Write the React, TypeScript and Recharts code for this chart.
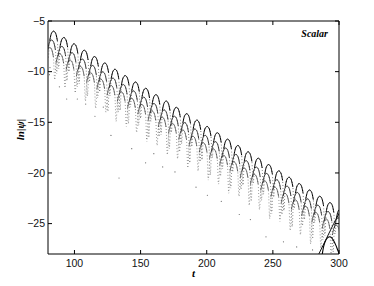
import React from 'react';
import { ComposedChart, Line, Scatter, XAxis, YAxis, ReferenceArea } from 'recharts';

const tTicks = [100, 150, 200, 250, 300];
const yTicks = [-25, -20, -15, -10, -5];

// samples are 8 per half-period of the ringing
const STEP = 0.9675;
const upperStart = 80.33;
const middleStart = 78.83;
const lowerStart = 77.33;

const upperRing = [
  -8.6, -6.96, -6.35, -6.08, -6.0, -6.08, -6.35, -6.96,
  -9.7, -7.59, -6.98, -6.71, -6.63, -6.71, -6.98, -7.59,
  -10.0, -8.21, -7.6, -7.33, -7.25, -7.33, -7.6, -8.21,
  -11.2, -8.84, -8.23, -7.96, -7.88, -7.96, -8.23, -8.84,
  -11.0, -9.47, -8.86, -8.59, -8.51, -8.59, -8.86, -9.47,
  -12.0, -10.1, -9.49, -9.22, -9.14, -9.22, -9.49, -10.1,
  -12.4, -10.72, -10.11, -9.84, -9.76, -9.84, -10.11, -10.72,
  -13.8, -11.35, -10.74, -10.47, -10.39, -10.47, -10.74, -11.35,
  -13.5, -11.98, -11.37, -11.1, -11.02, -11.1, -11.37, -11.98,
  -14.6, -12.6, -11.99, -11.72, -11.64, -11.72, -11.99, -12.6,
  -14.9, -13.23, -12.62, -12.35, -12.27, -12.35, -12.62, -13.23,
  -16.2, -13.86, -13.25, -12.98, -12.9, -12.98, -13.25, -13.86,
  -16.0, -14.48, -13.87, -13.6, -13.52, -13.6, -13.87, -14.48,
  -17.1, -15.11, -14.5, -14.23, -14.15, -14.23, -14.5, -15.11,
  -17.4, -15.74, -15.13, -14.86, -14.78, -14.86, -15.13, -15.74,
  -18.7, -16.37, -15.76, -15.49, -15.41, -15.49, -15.76, -16.37,
  -18.5, -16.99, -16.38, -16.11, -16.03, -16.11, -16.38, -16.99,
  -19.6, -17.62, -17.01, -16.74, -16.66, -16.74, -17.01, -17.62,
  -19.9, -18.25, -17.64, -17.37, -17.29, -17.37, -17.64, -18.25,
  -21.2, -18.87, -18.26, -17.99, -17.91, -17.99, -18.26, -18.87,
  -21.0, -19.5, -18.89, -18.62, -18.54, -18.62, -18.89, -19.5,
  -22.1, -20.13, -19.52, -19.25, -19.17, -19.25, -19.52, -20.13,
  -22.4, -20.75, -20.14, -19.87, -19.79, -19.87, -20.14, -20.75,
  -23.7, -21.38, -20.77, -20.5, -20.42, -20.5, -20.77, -21.38,
  -23.5, -22.01, -21.4, -21.13, -21.05, -21.13, -21.4, -22.01,
  -24.6, -22.64, -22.03, -21.76, -21.68, -21.76, -22.03, -22.64,
  -24.9, -23.26, -22.65, -22.38, -22.3, -22.38, -22.65, -23.26,
  -26.2, -23.89, -23.28, -23.01, -22.93, -23.01, -23.28, -23.89,
  -26.0, -24.52, -23.91, -23.64, -23.56,
];

const middleRing = [
  -9.3, -7.84, -7.23, -6.96, -6.88, -6.96, -7.23, -7.84,
  -10.2, -8.47, -7.86, -7.59, -7.51, -7.59, -7.86, -8.47,
  -10.9, -9.09, -8.48, -8.21, -8.13, -8.21, -8.48, -9.09,
  -11.5, -9.72, -9.11, -8.84, -8.76, -8.84, -9.11, -9.72,
  -12.4, -10.35, -9.74, -9.47, -9.39, -9.47, -9.74, -10.35,
  -12.6, -10.98, -10.37, -10.1, -10.02, -10.1, -10.37, -10.98,
  -13.9, -11.6, -10.99, -10.72, -10.64, -10.72, -10.99, -11.6,
  -14.0, -12.23, -11.62, -11.35, -11.27, -11.35, -11.62, -12.23,
  -15.1, -12.86, -12.25, -11.98, -11.9, -11.98, -12.25, -12.86,
  -15.3, -13.48, -12.87, -12.6, -12.52, -12.6, -12.87, -13.48,
  -16.5, -14.11, -13.5, -13.23, -13.15, -13.23, -13.5, -14.11,
  -16.4, -14.74, -14.13, -13.86, -13.78, -13.86, -14.13, -14.74,
  -17.6, -15.36, -14.75, -14.48, -14.4, -14.48, -14.75, -15.36,
  -17.9, -15.99, -15.38, -15.11, -15.03, -15.11, -15.38, -15.99,
  -19.0, -16.62, -16.01, -15.74, -15.66, -15.74, -16.01, -16.62,
  -18.9, -17.25, -16.64, -16.37, -16.29, -16.37, -16.64, -17.25,
  -20.2, -17.87, -17.26, -16.99, -16.91, -16.99, -17.26, -17.87,
  -20.3, -18.5, -17.89, -17.62, -17.54, -17.62, -17.89, -18.5,
  -21.5, -19.13, -18.52, -18.25, -18.17, -18.25, -18.52, -19.13,
  -21.6, -19.75, -19.14, -18.87, -18.79, -18.87, -19.14, -19.75,
  -22.8, -20.38, -19.77, -19.5, -19.42, -19.5, -19.77, -20.38,
  -22.7, -21.01, -20.4, -20.13, -20.05, -20.13, -20.4, -21.01,
  -24.0, -21.63, -21.02, -20.75, -20.67, -20.75, -21.02, -21.63,
  -24.1, -22.26, -21.65, -21.38, -21.3, -21.38, -21.65, -22.26,
  -25.3, -22.89, -22.28, -22.01, -21.93, -22.01, -22.28, -22.89,
  -25.2, -23.52, -22.91, -22.64, -22.56, -22.64, -22.91, -23.52,
  -26.5, -24.14, -23.53, -23.26, -23.18, -23.26, -23.53, -24.14,
  -26.6, -24.77, -24.16, -23.89, -23.81, -23.89, -24.16, -24.77,
  -27.8, -25.4, -24.79, -24.52, -24.44, -24.52, -24.79,
];

const lowerRing = [
  -10.0, -8.56, -7.95, -7.68, -7.6, -7.68, -7.95, -8.56,
  -10.8, -9.19, -8.58, -8.31, -8.23, -8.31, -8.58, -9.19,
  -11.6, -9.81, -9.2, -8.93, -8.85, -8.93, -9.2, -9.81,
  -12.1, -10.44, -9.83, -9.56, -9.48, -9.56, -9.83, -10.44,
  -12.9, -11.07, -10.46, -10.19, -10.11, -10.19, -10.46, -11.07,
  -13.6, -11.7, -11.09, -10.82, -10.74, -10.82, -11.09, -11.7,
  -14.0, -12.32, -11.71, -11.44, -11.36, -11.44, -11.71, -12.32,
  -14.9, -12.95, -12.34, -12.07, -11.99, -12.07, -12.34, -12.95,
  -15.4, -13.58, -12.97, -12.7, -12.62, -12.7, -12.97, -13.58,
  -16.0, -14.2, -13.59, -13.32, -13.24, -13.32, -13.59, -14.2,
  -16.9, -14.83, -14.22, -13.95, -13.87, -13.95, -14.22, -14.83,
  -17.3, -15.46, -14.85, -14.58, -14.5, -14.58, -14.85, -15.46,
  -18.2, -16.08, -15.47, -15.2, -15.12, -15.2, -15.47, -16.08,
  -18.6, -16.71, -16.1, -15.83, -15.75, -15.83, -16.1, -16.71,
  -19.5, -17.34, -16.73, -16.46, -16.38, -16.46, -16.73, -17.34,
  -19.8, -17.97, -17.36, -17.09, -17.01, -17.09, -17.36, -17.97,
  -20.7, -18.59, -17.98, -17.71, -17.63, -17.71, -17.98, -18.59,
  -21.1, -19.22, -18.61, -18.34, -18.26, -18.34, -18.61, -19.22,
  -22.0, -19.85, -19.24, -18.97, -18.89, -18.97, -19.24, -19.85,
  -22.3, -20.47, -19.86, -19.59, -19.51, -19.59, -19.86, -20.47,
  -23.2, -21.1, -20.49, -20.22, -20.14, -20.22, -20.49, -21.1,
  -23.6, -21.73, -21.12, -20.85, -20.77, -20.85, -21.12, -21.73,
  -24.5, -22.35, -21.74, -21.47, -21.39, -21.47, -21.74, -22.35,
  -24.8, -22.98, -22.37, -22.1, -22.02, -22.1, -22.37, -22.98,
  -25.7, -23.61, -23.0, -22.73, -22.65, -22.73, -23.0, -23.61,
  -26.1, -24.24, -23.63, -23.36, -23.28, -23.36, -23.63, -24.24,
  -27.0, -24.86, -24.25, -23.98, -23.9, -23.98, -24.25, -24.86,
  -27.4, -25.49, -24.88, -24.61, -24.53, -24.61, -24.88, -25.49,
  -28.3, -26.12, -25.51, -25.24, -25.16, -25.24, -25.51, -26.12,
];

// bold late-time curves near the right edge
const lateArchT = [287, 288.5, 290, 291.5, 293, 294.5, 296, 297.5, 299, 300.5];
const lateArchY = [-28.3, -27.2, -26.65, -26.38, -26.3, -26.4, -26.7, -27.1, -27.6, -28.1];
const lateRiseT = [284, 287, 290, 293, 296, 298, 300.5];
const lateRiseY = [-28.2, -27.4, -26.6, -25.8, -25.0, -24.5, -23.9];

// isolated samples that fall close to the zeros of the signal
const strayT = [81, 81.5, 88.6, 94.1, 102.2, 108.5, 115.5, 121.8, 127.6, 133.7, 143.3, 153.8, 160, 166.7, 176, 191.9, 200.5, 211, 224.6, 233, 244.8, 250, 258, 268, 280];
const strayY = [-10.3, -9.6, -11.5, -12.7, -12.7, -13.2, -14.4, -13.5, -16.3, -20.5, -17.6, -19.0, -18.1, -19.4, -19.9, -21.4, -22.2, -22.8, -24.1, -24.6, -26.3, -27.9, -26.8, -27.3, -27.6];

const toPoints = (start: number, ys: number[]) =>
  ys.map((y, i) => ({ t: +(start + i * STEP).toFixed(3), y }));
// keep only the arch tops (drop the sample at each zero crossing)
const capsOf = (pts: { t: number; y: number }[]) =>
  pts.map((p, i) => ({ t: p.t, y: i % 8 === 0 ? null : p.y }));
const zip = (ts: number[], ys: number[]) => ts.map((t, i) => ({ t, y: ys[i] }));

const upperData = toPoints(upperStart, upperRing);
const middleData = toPoints(middleStart, middleRing);
const lowerData = toPoints(lowerStart, lowerRing);
const strayData = zip(strayT, strayY);
const lateArch = zip(lateArchT, lateArchY);
const lateRise = zip(lateRiseT, lateRiseY);

// layout
const W = 374;
const H = 286;
const M = { top: 21, right: 35, left: 8, bottom: 0 };
const X_AXIS_H = 32;
const Y_AXIS_W = 40;
const plotLeft = M.left + Y_AXIS_W;
const plotRight = W - M.right;
const plotTop = M.top;
const plotBottom = H - M.bottom - X_AXIS_H;
const TICK = 4;

const fmt = (v: number) => (v < 0 ? '\u2212' + Math.abs(v) : String(v));
const sans = '"Liberation Sans", Arial, sans-serif';
const serif = '"Liberation Serif", "Times New Roman", serif';

// MATLAB-style box: ticks point inward on all four sides
const XTick = ({ x, y, payload }: any) => (
  <g>
    <line x1={x} x2={x} y1={plotBottom} y2={plotBottom - TICK} stroke="#000" />
    <line x1={x} x2={x} y1={plotTop} y2={plotTop + TICK} stroke="#000" />
    <text x={x} y={y} dy="0.71em" textAnchor="middle" fontFamily={sans} fontSize={10.5} fill="#111">
      {fmt(payload.value)}
    </text>
  </g>
);
const YTick = ({ x, y, payload }: any) => (
  <g>
    <line x1={plotLeft} x2={plotLeft + TICK} y1={y} y2={y} stroke="#000" />
    <line x1={plotRight} x2={plotRight - TICK} y1={y} y2={y} stroke="#000" />
    <text x={x} y={y} dy="0.35em" textAnchor="end" fontFamily={sans} fontSize={10.5} fill="#111">
      {fmt(payload.value)}
    </text>
  </g>
);

const dot = (props: any) => <circle cx={props.cx} cy={props.cy} r={0.6} fill="#666" />;

const rows = [
  { data: lowerData, cap: '#444', capW: 0.8, flank: '#666' },
  { data: middleData, cap: '#222', capW: 0.9, flank: '#555' },
  { data: upperData, cap: '#000', capW: 1.0, flank: '#444' },
];

export default function App() {
  return (
    <div style={{ position: 'absolute', left: 0, top: 0, background: '#fff' }}>
      <ComposedChart width={W} height={H} margin={M}>
        <XAxis
          dataKey="t"
          type="number"
          domain={[80, 300]}
          ticks={tTicks}
          allowDataOverflow
          height={X_AXIS_H}
          axisLine={false}
          tickLine={false}
          tickSize={0}
          tickMargin={6}
          tick={<XTick />}
          label={{
            content: ({ viewBox }: any) => (
              <text x={viewBox.x + viewBox.width / 2} y={viewBox.y + 23} textAnchor="middle"
                fontFamily={serif} fontStyle="italic" fontWeight="bold" fontSize={11} fill="#000">t</text>
            ),
          }}
        />
        <YAxis
          type="number"
          domain={[-28, -5]}
          ticks={yTicks}
          allowDataOverflow
          width={Y_AXIS_W}
          axisLine={false}
          tickLine={false}
          tickSize={0}
          tickMargin={3}
          tick={<YTick />}
          label={{
            content: ({ viewBox }: any) => {
              const cx = viewBox.x + 16;
              const cy = viewBox.y + viewBox.height / 2 - 8;
              return (
                <text x={cx} y={cy} transform={`rotate(-90 ${cx} ${cy})`} textAnchor="middle"
                  fontFamily={serif} fontStyle="italic" fontWeight="bold" fontSize={11} fill="#000">ln|ψ|</text>
              );
            },
          }}
        />
        <ReferenceArea x1={80} x2={300} y1={-28} y2={-5} fill="none" stroke="#000" strokeWidth={1} ifOverflow="visible"
          label={{
            content: ({ viewBox }: any) => (
              <text x={viewBox.x + viewBox.width - 11} y={viewBox.y + 16} textAnchor="end"
                fontFamily={serif} fontStyle="italic" fontWeight="bold" fontSize={10} fill="#000">Scalar</text>
            ),
          }}
        />
        {rows.map((r, k) => (
          <Line key={'f' + k} data={r.data} dataKey="y" type="monotone" stroke={r.flank} strokeWidth={0.8}
            strokeDasharray="0.8 2.2" dot={false} activeDot={false} isAnimationActive={false} />
        ))}
        {rows.map((r, k) => (
          <Line key={'c' + k} data={capsOf(r.data)} dataKey="y" type="monotone" stroke={r.cap} strokeWidth={r.capW}
            dot={false} activeDot={false} isAnimationActive={false} />
        ))}
        <Line data={lateArch} dataKey="y" type="monotone" stroke="#000" strokeWidth={1.1}
          dot={false} activeDot={false} isAnimationActive={false} />
        <Line data={lateRise} dataKey="y" type="monotone" stroke="#111" strokeWidth={1}
          dot={false} activeDot={false} isAnimationActive={false} />
        <Scatter data={strayData} dataKey="y" shape={dot} isAnimationActive={false} />
      </ComposedChart>
    </div>
  );
}
